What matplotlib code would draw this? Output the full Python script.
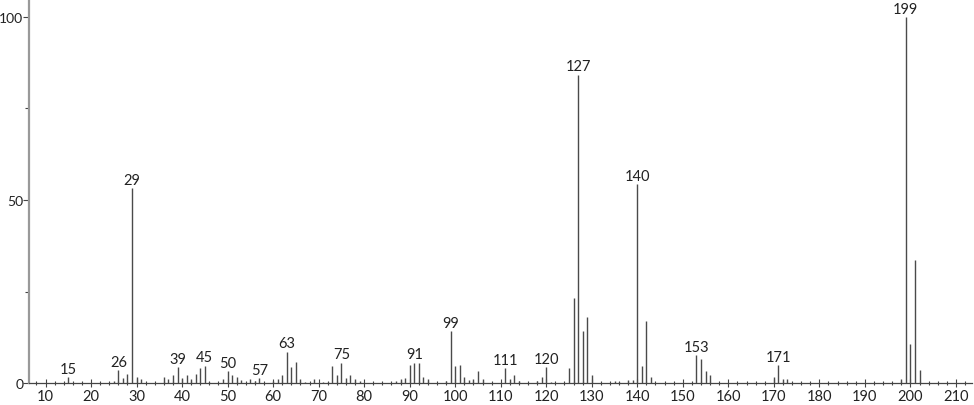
import matplotlib.pyplot as plt
from matplotlib.ticker import MultipleLocator

# Peak positions (m/z) and relative intensities.
mz = [15, 25, 26, 27, 28, 29, 30, 31, 36, 37, 38, 39, 40, 41, 42, 43, 44, 45, 46,
      49, 50, 51, 52, 53, 55, 56, 57, 60, 61, 62, 63, 64, 65, 66, 67, 69, 71, 72,
      73, 74, 75, 76, 77, 78, 79, 87, 88, 89, 90, 91, 92, 93, 94, 98, 99, 100, 101,
      102, 103, 104, 105, 106, 111, 112, 113, 114, 118, 119, 120, 121, 125, 126,
      127, 128, 129, 130, 135, 136, 138, 139, 140, 141, 142, 143, 153, 154, 155,
      156, 170, 171, 172, 173, 198, 199, 200, 201, 202]
intensity = [1.6, 0.6, 3.6, 1.4, 2.5, 53.3, 1.7, 1.1, 1.6, 1.0, 2.3, 4.4, 1.4, 2.2,
             1.1, 2.4, 4.0, 4.7, 0.4, 1.1, 3.2, 2.3, 1.7, 0.8, 1.0, 0.6, 1.4, 0.6,
             1.0, 2.3, 8.6, 4.4, 5.8, 1.0, 0.4, 1.0, 0.4, 0.4, 4.8, 2.2, 5.6, 1.4,
             2.2, 1.0, 0.6, 0.6, 1.0, 1.4, 4.9, 5.6, 5.4, 1.6, 1.0, 0.6, 14.2, 4.6,
             4.9, 1.6, 0.8, 1.0, 3.2, 1.0, 4.1, 1.0, 2.1, 0.6, 0.6, 1.7, 4.4, 0.4,
             4.1, 23.2, 84.2, 14.2, 18.0, 2.3, 0.6, 0.4, 0.8, 0.8, 54.4, 4.7, 17.0,
             1.6, 7.6, 6.6, 3.4, 2.3, 1.6, 4.9, 1.0, 1.0, 1.0, 100.0, 10.7, 33.6, 3.6]

# Peaks that carry a text label.
labelled = [15, 26, 29, 39, 45, 50, 57, 63, 75, 91, 99, 111, 120, 127, 140, 153, 171, 199]

plt.rcParams["font.family"] = ["Lato", "DejaVu Sans"]

fig = plt.figure(figsize=(9.74, 4.06), dpi=100)
ax = fig.add_axes([0.0298, 0.054, 0.968, 0.946])

# Draw the stick spectrum.
ax.vlines(mz, 0, intensity, colors="#4a4a4a", linewidth=1.0)

# Annotate the labelled peaks.
for m, h in zip(mz, intensity):
    if m in labelled:
        ax.annotate(str(m), xy=(m, h), xytext=(0, 1), textcoords="offset points",
                    ha="center", va="bottom", fontsize=10.5, color="#222222")

ax.set_xlim(6.38, 213.5)
ax.set_ylim(0, 104.9)

# Axis styling.
for side in ["top", "right"]:
    ax.spines[side].set_visible(False)
ax.spines["left"].set_color("#999999")
ax.spines["left"].set_linewidth(1.6)
ax.spines["bottom"].set_color("#444444")
ax.spines["bottom"].set_linewidth(0.9)

ax.xaxis.set_major_locator(MultipleLocator(10))
ax.xaxis.set_minor_locator(MultipleLocator(2))
ax.yaxis.set_major_locator(MultipleLocator(50))
ax.yaxis.set_minor_locator(MultipleLocator(25))
ax.tick_params(axis="x", which="major", direction="inout", length=6, width=0.8,
               colors="#444444", labelcolor="#222222", labelsize=10.5, pad=1)
ax.tick_params(axis="x", which="minor", direction="inout", length=3, width=0.8,
               colors="#444444")
ax.tick_params(axis="y", which="major", direction="out", length=4, width=0.8,
               colors="#444444", labelcolor="#222222", labelsize=10, pad=0)
ax.tick_params(axis="y", which="minor", direction="out", length=3, width=0.8,
               colors="#444444")

fig.savefig("out.png", dpi=100)
